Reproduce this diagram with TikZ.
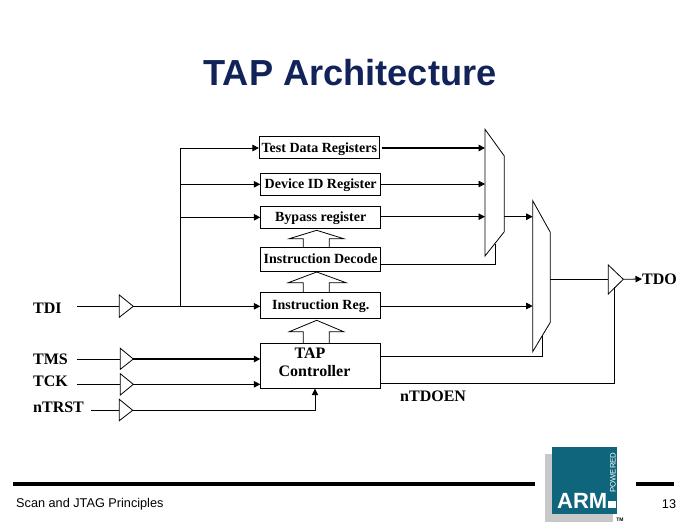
\documentclass[tikz,border=0pt]{standalone}
\usepackage{fontspec}
\setmainfont{Liberation Serif}
\setsansfont{Liberation Sans}
\usetikzlibrary{arrows.meta}

\definecolor{titleblue}{HTML}{12235A}
\definecolor{armteal}{HTML}{0F667C}
\definecolor{armgray}{HTML}{C8C8C8}

\tikzset{
	reg/.style={draw, thick, minimum height=22pt, minimum width=120pt, inner sep=0pt, text height=9pt, text depth=0pt, font=\fontsize{14}{16}\selectfont\bfseries},
	pin/.style={font=\fontsize{16}{18}\selectfont\bfseries, inner sep=0pt},
	link/.style={thick, -{Triangle[length=6.5pt,width=6.5pt]}},
	wire/.style={thick},
	buf/.style={thick, fill=white},
	hollow/.style={thick},
	footer/.style={font=\sffamily\fontsize{12.7}{14}\selectfont, inner sep=0pt}
}

\begin{document}
\begin{tikzpicture}[x=1pt, y=-1pt]
	\useasboundingbox (0, 0) rectangle (697, 523);

	\node[font=\sffamily\bfseries\fontsize{36.2}{40}\selectfont, text=titleblue, inner sep=0pt] (title) at (350, 72.5) {TAP Architecture};

	% registers
	\node[reg] (tdr) at (319.3, 147.5) {Test Data Registers};
	\node[reg] (idr) at (320.7, 184.3) {Device ID Register};
	\node[reg] (byp) at (320.7, 217.3) {Bypass register};
	\node[reg, minimum height=24pt] (dec) at (320.7, 259.3) {Instruction Decode};
	\node[reg, minimum height=26pt] (ir) at (320.7, 305.3) {Instruction Reg.};
	\node[reg, minimum height=45pt] (tap) at (320.7, 365.8) {};
	\node[font=\fontsize{16}{18}\selectfont\bfseries, align=center, inner sep=0pt] (taplabel) at (314.5, 362) {TAP\hspace*{9pt}\\Controller};

	% muxes
	\draw[thick] (485, 129.3) -- (504.3, 156) -- (504.3, 231.7) -- (485, 256) -- cycle;
	\draw[thick] (532.7, 200.7) -- (550.3, 232.3) -- (550.3, 322.3) -- (532.7, 351.7) -- cycle;
	\coordinate (muxa1) at (485, 148);
	\coordinate (muxa2) at (485, 184);
	\coordinate (muxa3) at (485, 216.7);
	\coordinate (muxaout) at (504.3, 216.7);
	\coordinate (muxasel) at (495.7, 244);
	\coordinate (muxb1) at (532.7, 216.7);
	\coordinate (muxb2) at (532.7, 306);
	\coordinate (muxbout) at (550.3, 279.3);
	\coordinate (muxbsel) at (542.3, 336);

	% hollow arrows
	\foreach \top/\wing/\foot/\wl/\wr in {230.3/238.7/247.3/289.3/343.7, 272/282.7/292.3/288.3/346, 320.3/331.7/343.3/289.3/343.7}
		\draw[hollow] (303.3, \foot) -- (303.3, \wing) -- (\wl, \wing) -- (316.7, \top) -- (\wr, \wing) -- (329.3, \wing) -- (329.3, \foot);

	% pins
	\node[pin, anchor=west] (tdi) at (33, 308) {TDI};
	\node[pin, anchor=west] (tms) at (33, 359.5) {TMS};
	\node[pin, anchor=west] (tck) at (33, 381.5) {TCK};
	\node[pin, anchor=west] (trst) at (33, 407.5) {nTRST};
	\node[pin, anchor=west] (tdo) at (642, 279) {TDO};
	\node[pin, anchor=west] (tdoen) at (400, 396.5) {nTDOEN};

	% input buffers
	\coordinate (tdiin) at (77, 306.3);
	\coordinate (tmsin) at (77, 359);
	\coordinate (tckin) at (77, 384.3);
	\coordinate (trstin) at (91, 410.3);
	\draw[wire] (tdiin) -- (119.3, 306.3);
	\draw[wire] (tmsin) -- (120.3, 359);
	\draw[wire] (tckin) -- (120.3, 384.3);
	\draw[wire] (trstin) -- (119.3, 410.3);
	\draw[buf] (119.3, 295) -- (133.3, 306.3) -- (119.3, 317.3) -- cycle;
	\draw[buf] (120.3, 348.3) -- (133.3, 359) -- (120.3, 369.3) -- cycle;
	\draw[buf] (120.3, 373.7) -- (133.3, 384.3) -- (120.3, 395) -- cycle;
	\draw[buf] (119.3, 399.3) -- (132.7, 410.3) -- (119.3, 420.7) -- cycle;
	\draw[buf] (608.3, 265) -- (623.3, 279.3) -- (608.3, 294) -- cycle;

	% connectors
	\coordinate (bus) at (180.3, 306.3);
	\draw[link] (133.3, 306.3) -- (ir.west |- 0, 306.3);
	\draw[link] (bus) |- (tdr.west |- 0, 148);
	\draw[link] (bus |- idr) -- (idr.west |- 0, 184.3);
	\draw[link] (bus |- byp) -- (byp.west);
	\draw[link, line width=1.6pt] (133.3, 359) -- (tap.west |- 0, 359);
	\draw[link] (133.3, 384.3) -- (tap.west |- 0, 384.3);
	\draw[link] (132.7, 410.3) -| (tap.south -| 315, 0);
	\draw[link, line width=1.6pt] (tdr.east |- muxa1) ++(2, 0) -- (muxa1);
	\draw[link] (idr.east |- muxa2) -- (muxa2);
	\draw[link] (byp.east |- muxa3) -- (muxa3);
	\draw[wire] (dec.east |- 0, 264.3) -| (muxasel);
	\draw[link] (muxaout) -- (muxb1);
	\draw[link] (ir.east |- muxb2) -- (muxb2);
	\draw[wire] (tap.east |- 0, 356.3) -| (muxbsel);
	\draw[wire] (tap.east |- 0, 383.3) -| (614.3, 287);
	\draw[wire] (muxbout) -- (608.3, 279.3);
	\draw[link] (623.3, 279.3) -- (tdo.west);

	% footer
	\fill (13, 481.7) rectangle (535, 482.8);
	\fill (13, 483.4) rectangle (535, 485.7);
	\fill (635.5, 481.7) rectangle (674, 482.8);
	\fill (635.5, 483.4) rectangle (674, 485.7);
	\node[footer, anchor=west] (foot) at (16, 504.5) {Scan and JTAG Principles};
	\node[footer] (pageno) at (669, 504.5) {13};

	% logo
	\fill[armgray] (545, 454) rectangle (613, 521.7);
	\fill[armteal] (552.3, 446.7) rectangle (616.7, 514);
	\node[font=\sffamily\bfseries\fontsize{22}{24}\selectfont, text=white, anchor=west, inner sep=0pt] (arm) at (557, 501) {ARM};
	\fill[white] (607.5, 500.5) rectangle (616, 507.5);
	\node[font=\sffamily\fontsize{7.8}{10}\selectfont, text=white, rotate=90, anchor=west, inner sep=0pt] (powered) at (613, 493) {POWERED};
	\node[font=\sffamily\bfseries\fontsize{5}{6}\selectfont, inner sep=0pt] (tm) at (620, 519.5) {TM};
\end{tikzpicture}
\end{document}
